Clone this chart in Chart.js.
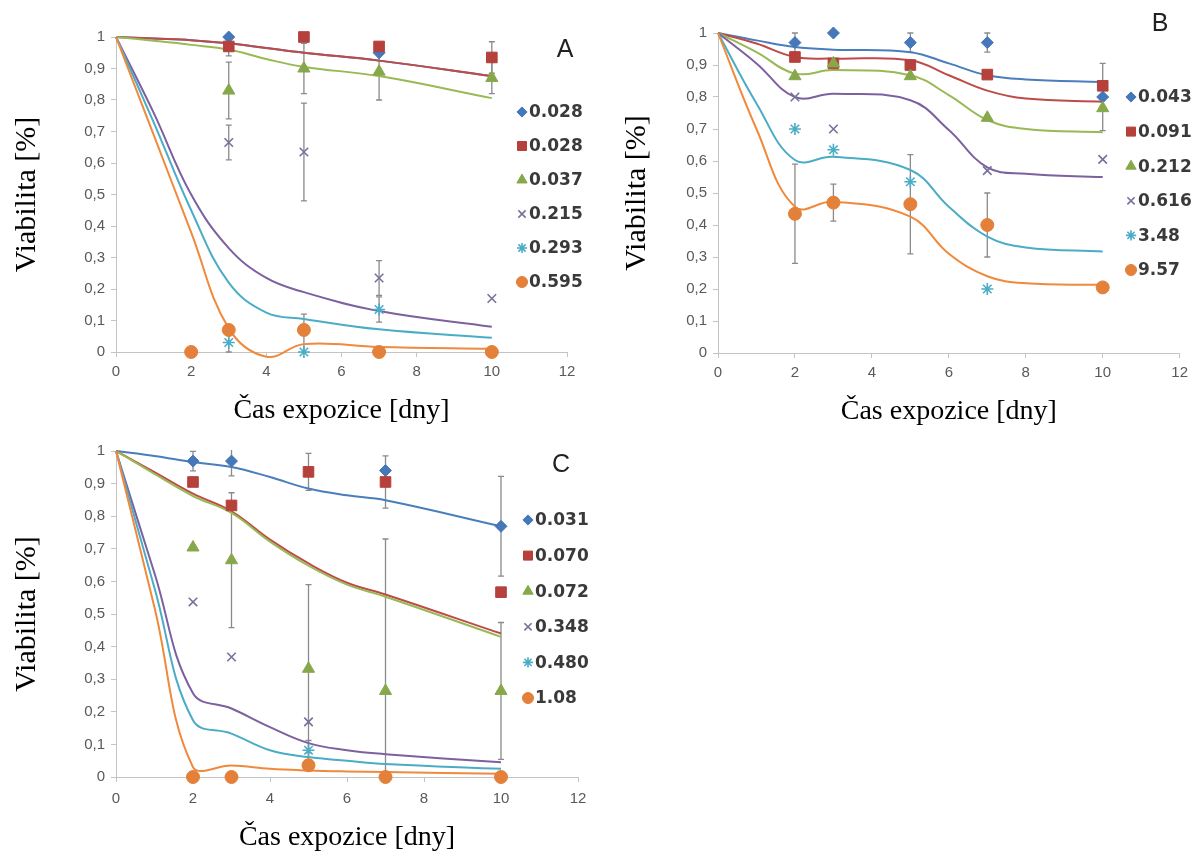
<!DOCTYPE html>
<html>
<head>
<meta charset="utf-8">
<title>Viabilita</title>
<script src="https://cdn.jsdelivr.net/npm/chart.js@4.4.1/dist/chart.umd.min.js"></script>
<style>
  html, body { margin: 0; padding: 0; background: #fff; }
  body { width: 1194px; height: 856px; position: relative; overflow: hidden; }
  .panel { position: absolute; }
  .panel canvas { display: block; }
</style>
</head>
<body>
<div class="panel" style="left:0;top:0"><canvas id="chartA" width="600" height="440"></canvas></div>
<div class="panel" style="left:600px;top:0"><canvas id="chartB" width="594" height="440"></canvas></div>
<div class="panel" style="left:0;top:410px"><canvas id="chartC" width="600" height="446"></canvas></div>
<script>
// --- values ---
const days = [2, 3, 5, 7, 10];

const labelsA = ['0.028', '0.028', '0.037', '0.215', '0.293', '0.595'];
const pointsA = [
    [null, 1.00, null, 0.95, null],
    [null, 0.97, 1.00, 0.97, 0.935],
    [null, 0.83, 0.90, 0.89, 0.87],
    [null, 0.665, 0.635, 0.235, 0.17],
    [null, 0.03, 0.00, 0.135, null],
    [0.00, 0.07, 0.07, 0.00, 0.00]
];
const errorsA = [
    [0, 0, 0, 0, 0],
    [0, 0.03, 0, 0, 0.05],
    [0, 0.09, 0.08, 0.09, 0.05],
    [0, 0.055, 0.155, 0.055, 0],
    [0, 0.03, 0.12, 0.04, 0],
    [0, 0, 0, 0, 0]
];
const curveDaysA = [0, 1, 2, 3, 4, 5, 7, 10];
const curvesA = [
    [1, 0.995, 0.99, 0.98, 0.965, 0.95, 0.925, 0.876],
    [1, 0.995, 0.99, 0.98, 0.965, 0.95, 0.925, 0.876],
    [1, 0.988, 0.975, 0.96, 0.93, 0.905, 0.876, 0.806],
    [1, 0.76, 0.50, 0.33, 0.235, 0.19, 0.13, 0.08],
    [1, 0.73, 0.45, 0.22, 0.125, 0.105, 0.072, 0.045],
    [1, 0.69, 0.38, 0.075, -0.015, 0.025, 0.016, 0.01]
];

const labelsB = ['0.043', '0.091', '0.212', '0.616', '3.48', '9.57'];
const pointsB = [
    [0.97, 1.00, 0.97, 0.97, 0.80],
    [0.925, 0.905, 0.90, 0.87, 0.835],
    [0.865, 0.905, 0.865, 0.735, 0.765],
    [0.80, 0.70, null, 0.57, 0.605],
    [0.70, 0.635, 0.535, 0.20, null],
    [0.435, 0.47, 0.465, 0.40, 0.205]
];
const errorsB = [
    [0.03, 0, 0.03, 0.03, 0.105],
    [0, 0, 0, 0, 0],
    [0, 0, 0, 0, 0],
    [0, 0, 0, 0, 0],
    [0, 0, 0, 0, 0],
    [0.155, 0.058, 0.155, 0.10, 0]
];
const curveDaysB = [0, 1, 2, 3, 5, 6, 7, 8, 10];
const curvesB = [
    [1, 0.977, 0.956, 0.948, 0.94, 0.905, 0.868, 0.855, 0.847],
    [1, 0.967, 0.925, 0.92, 0.915, 0.868, 0.82, 0.795, 0.785],
    [1, 0.94, 0.873, 0.884, 0.868, 0.806, 0.728, 0.70, 0.69],
    [1, 0.905, 0.80, 0.81, 0.79, 0.697, 0.58, 0.56, 0.55],
    [1, 0.78, 0.603, 0.613, 0.572, 0.457, 0.364, 0.33, 0.317],
    [1, 0.70, 0.457, 0.473, 0.426, 0.31, 0.24, 0.218, 0.213]
];

const labelsC = ['0.031', '0.070', '0.072', '0.348', '0.480', '1.08'];
const pointsC = [
    [0.969, 0.969, null, 0.94, 0.769],
    [0.905, 0.833, 0.936, 0.905, 0.567],
    [0.704, 0.665, 0.332, 0.264, 0.264],
    [0.537, 0.368, 0.169, null, null],
    [null, null, 0.082, null, null],
    [0.00, 0.00, 0.036, 0.00, 0.00]
];
const errorsC = [
    [0.03, 0.045, 0, 0, 0.153],
    [0, 0, 0.057, 0.08, 0],
    [0, 0.207, 0.258, 0.466, 0.21],
    [0, 0, 0, 0, 0],
    [0, 0, 0.03, 0, 0],
    [0, 0, 0, 0, 0]
];
const curveDaysC = [0, 1, 2, 3, 4, 5, 6, 7, 10];
const curvesC = [
    [1, 0.985, 0.966, 0.951, 0.92, 0.885, 0.864, 0.849, 0.769],
    [1, 0.935, 0.869, 0.815, 0.728, 0.655, 0.596, 0.56, 0.44],
    [1, 0.93, 0.862, 0.81, 0.722, 0.648, 0.59, 0.553, 0.43],
    [1, 0.625, 0.257, 0.21, 0.153, 0.104, 0.082, 0.07, 0.045],
    [1, 0.58, 0.174, 0.133, 0.082, 0.061, 0.05, 0.04, 0.025],
    [1, 0.52, 0.03, 0.035, 0.025, 0.02, 0.017, 0.015, 0.01]
];

const yTicks = [0, 0.1, 0.2, 0.3, 0.4, 0.5, 0.6, 0.7, 0.8, 0.9, 1];
const xTicks = [0, 2, 4, 6, 8, 10, 12];
// ----------------------------------

// styles (Excel 2010 palette)
const lineColors = ['#4a7ebb', '#be4b48', '#98b954', '#7d60a0', '#4bacc6', '#f0893b'];
const markerColors = ['#4677b8', '#b5403c', '#86a84a', '#77709a', '#4bacc6', '#e3803a'];
const markerStyles = ['rectRot', 'rect', 'triangle', 'crossRot', 'star', 'circle'];
const markerRadius = [6, 7.5, 7, 6, 6, 6.5];

Chart.defaults.font.family = '"Liberation Sans", Arial, sans-serif';
Chart.defaults.animation = false;

const serif = '"Liberation Serif", "Times New Roman", serif';

const errorBars = {
    id: 'errorBars',
    beforeDatasetsDraw(chart) {
        const { ctx, chartArea, scales: { x, y } } = chart;
        ctx.save();
        ctx.beginPath();
        ctx.rect(chartArea.left, chartArea.top - 1, chartArea.width, chartArea.height + 2);
        ctx.clip();
        ctx.strokeStyle = '#8a8a8a';
        ctx.lineWidth = 1.3;
        chart.data.datasets.forEach(ds => {
            if (!ds.errors) return;
            ds.errors.forEach((e, i) => {
                const v = ds.values[i];
                if (!e || v === null) return;
                const px = x.getPixelForValue(days[i]);
                const top = y.getPixelForValue(v + e);
                const bot = y.getPixelForValue(v - e);
                ctx.beginPath();
                ctx.moveTo(px, top); ctx.lineTo(px, bot);
                ctx.moveTo(px - 3, top); ctx.lineTo(px + 3, top);
                ctx.moveTo(px - 3, bot); ctx.lineTo(px + 3, bot);
                ctx.stroke();
            });
        });
        ctx.restore();
    }
};

// legend sits inside the plot, like the Excel original
const markerLegend = {
    id: 'markerLegend',
    afterDraw(chart, args, opts) {
        const { ctx } = chart;
        ctx.save();
        ctx.textBaseline = 'middle';
        ctx.textAlign = 'left';
        ctx.font = 'bold 17px "DejaVu Sans", sans-serif';
        chart.data.datasets.filter(d => d.label).forEach((d, i) => {
            const y = opts.top + i * opts.step;
            ctx.fillStyle = d.backgroundColor;
            ctx.strokeStyle = d.borderColor;
            ctx.lineWidth = d.pointBorderWidth;
            Chart.helpers.drawPoint(ctx, {
                pointStyle: d.pointStyle,
                radius: d.pointRadius * 0.85,
                borderWidth: d.pointBorderWidth,
                rotation: 0
            }, opts.x, y);
            ctx.fillStyle = '#3a3a3a';
            ctx.fillText(d.label, opts.x + 7, y + 1);
        });
        ctx.font = '25px "Liberation Sans", sans-serif';
        ctx.fillStyle = '#222';
        ctx.textAlign = 'center';
        ctx.fillText(opts.letter, opts.letterX, opts.letterY);
        ctx.restore();
    }
};

function buildDatasets(points, errors, labels, curveDays, curves) {
    const sets = [];
    curves.forEach((c, s) => {
        sets.push({
            data: curveDays.map((d, i) => ({ x: d, y: c[i] })),
            showLine: true,
            borderColor: lineColors[s],
            borderWidth: 2,
            pointRadius: 0,
            tension: 0.4,
            clip: false,
            order: 20 - s
        });
    });
    points.forEach((p, s) => {
        const outline = markerStyles[s] === 'crossRot' || markerStyles[s] === 'star';
        sets.push({
            label: labels[s],
            values: p,
            errors: errors[s],
            data: days.map((d, i) => ({ x: d, y: p[i] })).filter(pt => pt.y !== null),
            showLine: false,
            pointStyle: markerStyles[s],
            pointRadius: markerRadius[s],
            backgroundColor: markerColors[s],
            borderColor: markerColors[s],
            pointBorderWidth: outline ? 1.6 : 1,
            clip: false,
            order: 10 - s
        });
    });
    return sets;
}

function makeChart(id, sets, layout) {
    const tickFont = { size: 15 };
    return new Chart(document.getElementById(id), {
        type: 'scatter',
        data: { datasets: sets },
        options: {
            responsive: false,
            animation: false,
            layout: { padding: layout.padding },
            plugins: {
                legend: { display: false },
                tooltip: { enabled: false },
                markerLegend: layout.legend
            },
            scales: {
                x: {
                    type: 'linear', min: 0, max: 12,
                    afterBuildTicks: sc => { sc.ticks = xTicks.map(v => ({ value: v })); },
                    ticks: { color: '#595959', font: tickFont, padding: layout.xTickPad, maxRotation: 0 },
                    grid: { drawOnChartArea: false, color: '#c4c4c4', tickLength: 5 },
                    border: { color: '#c4c4c4' },
                    title: {
                        display: true, text: 'Čas expozice [dny]', color: '#000', padding: 0,
                        font: { family: serif, size: 28 }
                    },
                    afterFit: sc => { sc.height = layout.xHeight; }
                },
                y: {
                    min: 0, max: 1,
                    afterBuildTicks: sc => { sc.ticks = yTicks.map(v => ({ value: v })); },
                    ticks: {
                        color: '#595959', font: tickFont, padding: 6,
                        callback: v => String(Math.round(v * 10) / 10).replace('.', ',')
                    },
                    grid: { drawOnChartArea: false, color: '#c4c4c4', tickLength: 5 },
                    border: { color: '#c4c4c4' },
                    title: {
                        display: true, text: 'Viabilita [%]', color: '#000',
                        padding: { top: layout.yTitlePad, bottom: 0 },
                        font: { family: serif, size: 30 }
                    },
                    afterFit: sc => { sc.width = layout.yWidth; }
                }
            }
        },
        plugins: [errorBars, markerLegend]
    });
}

makeChart('chartA', buildDatasets(pointsA, errorsA, labelsA, curveDaysA, curvesA), {
    padding: { top: 37, right: 33, bottom: 13, left: 0 },
    yWidth: 116, xHeight: 75, yTitlePad: 9, xTickPad: 6,
    legend: { x: 522, top: 112, step: 34, letter: 'A', letterX: 565, letterY: 50 }
});

makeChart('chartB', buildDatasets(pointsB, errorsB, labelsB, curveDaysB, curvesB), {
    padding: { top: 33, right: 14, bottom: 12, left: 0 },
    yWidth: 118, xHeight: 75, yTitlePad: 19, xTickPad: 6,
    legend: { x: 531, top: 97, step: 34.6, letter: 'B', letterX: 560, letterY: 24 }
});

makeChart('chartC', buildDatasets(pointsC, errorsC, labelsC, curveDaysC, curvesC), {
    padding: { top: 41, right: 22, bottom: 2, left: 0 },
    yWidth: 116, xHeight: 77, yTitlePad: 9, xTickPad: 8,
    legend: { x: 528, top: 110, step: 35.6, letter: 'C', letterX: 561, letterY: 55 }
});
</script>
</body>
</html>
